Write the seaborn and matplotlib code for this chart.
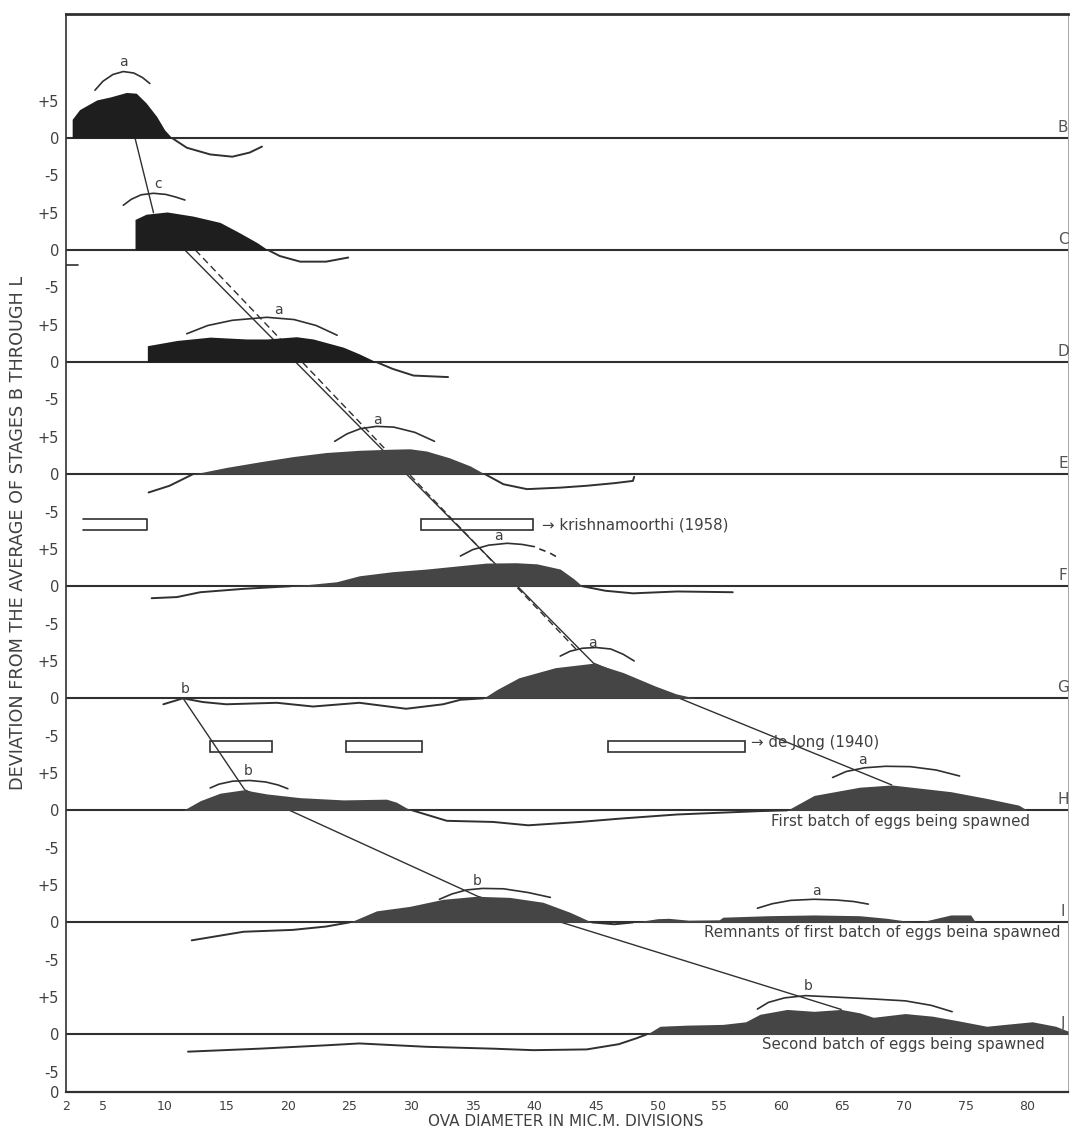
import numpy as np
import matplotlib
matplotlib.use("Agg")
import matplotlib.pyplot as plt
import seaborn as sns

## stages, stacked top to bottom, 15 deviation units apart
stages = ["B", "C", "D", "E", "F", "G", "H", "I", "J"]
stage_gap = 15

## deviation profiles (positive part is filled, negative part drawn as a line)
B_x = [2.5, 2.5, 3.1, 4.5, 5.6, 6.9, 7.7, 8.5, 9.35, 10.0, 10.6, 11.8, 13.7, 15.5, 16.9, 17.9]
B_dev = [0, 2.5, 3.8, 5.1, 5.5, 6.1, 6.0, 4.7, 2.9, 1.1, 0, -1.3, -2.2, -2.5, -1.95, -1.15]

C_x = [7.6, 7.6, 8.5, 10.2, 12.3, 14.5, 16.1, 17.5, 18.4, 19.35, 21.0, 23.1, 24.9]
C_dev = [0, 4.1, 4.8, 5.1, 4.55, 3.7, 2.3, 1.0, 0, -0.8, -1.55, -1.55, -1.0]

D_x = [8.6, 8.6, 11.0, 13.7, 16.65, 18.3, 20.7, 22.05, 24.5, 25.8, 27.2, 28.5, 30.2, 33.0]
D_dev = [0, 2.2, 2.9, 3.35, 3.1, 3.1, 3.4, 3.1, 2.0, 1.1, 0, -0.9, -1.8, -2.0]

E_x = [8.7, 10.4, 12.3, 15.0, 17.7, 20.4, 23.1, 25.8, 28.5, 29.9, 31.25, 33.1, 34.8, 36.0,
       37.5, 39.4, 42.1, 44.25, 46.5, 48.0, 48.1]
E_dev = [-2.45, -1.55, 0, 0.9, 1.65, 2.35, 2.9, 3.2, 3.35, 3.4, 3.1, 2.2, 1.1, 0,
         -1.35, -2.0, -1.8, -1.55, -1.2, -0.9, -0.35]

F_x = [8.95, 11.0, 12.9, 16.4, 20.2, 23.95, 25.8, 28.5, 31.25, 33.95, 36.1, 38.5, 40.2, 42.1,
       43.2, 43.9, 45.75, 48.0, 51.6, 56.1]
F_dev = [-1.6, -1.45, -0.8, -0.35, 0, 0.6, 1.4, 1.95, 2.3, 2.75, 3.1, 3.15, 3.0, 2.3,
         1.0, 0, -0.6, -0.95, -0.7, -0.8]

G_x = [9.9, 11.5, 13.1, 15.0, 19.1, 22.05, 25.8, 29.6, 32.6, 34.0, 35.85, 37.0, 38.75, 41.7,
       44.8, 47.2, 49.8, 51.5, 53.1]
G_dev = [-0.8, 0, -0.5, -0.8, -0.6, -1.1, -0.6, -1.4, -0.8, -0.2, 0, 1.2, 2.75, 4.1,
         4.7, 3.45, 1.65, 0.6, 0]

H_x = [11.5, 12.9, 14.5, 16.4, 18.3, 21.0, 24.5, 28.0, 28.8, 29.6, 30.1, 32.9, 36.65, 39.5,
       43.7, 47.0, 51.6, 58.3, 60.5, 62.7, 66.4, 69.0, 73.8, 76.7, 79.3, 80.0]
H_dev = [0, 1.3, 2.3, 2.75, 2.2, 1.7, 1.4, 1.5, 1.1, 0.35, 0, -1.4, -1.55, -2.0,
         -1.55, -1.1, -0.55, -0.1, 0, 2.0, 3.1, 3.4, 2.5, 1.6, 0.7, 0]

I_x = [12.2, 16.4, 20.4, 23.1, 25.0, 27.2, 29.9, 32.6, 35.3, 38.0, 40.7, 42.9, 44.7, 46.5,
       48.0, 50.0, 50.9, 52.5, 55.0, 55.3, 59.0, 62.7, 66.4, 68.6, 70.1, 71.2, 72.5, 73.8,
       75.4, 75.8]
I_dev = [-2.4, -1.25, -1.0, -0.55, 0, 1.55, 2.15, 3.1, 3.5, 3.35, 2.7, 1.35, 0, -0.25,
         0, 0.5, 0.55, 0.3, 0.35, 0.7, 0.9, 1.0, 0.9, 0.55, 0.2, -0.1, 0.5, 1.0,
         1.0, 0]

J_x = [11.9, 17.7, 23.1, 25.8, 31.25, 36.65, 39.9, 44.25, 46.85, 48.3, 49.1, 50.2, 52.4, 55.3,
       57.15, 58.3, 60.5, 62.7, 64.9, 66.4, 67.5, 70.1, 72.3, 74.5, 76.7, 78.2, 80.4, 82.3, 83.3]
J_dev = [-2.3, -1.9, -1.45, -1.2, -1.65, -1.9, -2.1, -2.0, -1.3, -0.5, 0, 1.1, 1.25, 1.35,
         1.7, 2.7, 3.35, 3.1, 3.35, 2.9, 2.3, 2.8, 2.45, 1.8, 1.1, 1.35, 1.7, 1.1, 0.45]

profiles = {"B": (B_x, B_dev), "C": (C_x, C_dev), "D": (D_x, D_dev), "E": (E_x, E_dev),
            "F": (F_x, F_dev), "G": (G_x, G_dev), "H": (H_x, H_dev), "I": (I_x, I_dev),
            "J": (J_x, J_dev)}

## modal arcs (stage, letter, arc x, arc y, letter position)
arc_B_x = [4.35, 5.0, 5.8, 6.65, 7.5, 8.2, 8.8]
arc_B_y = [6.4, 7.6, 8.5, 8.9, 8.7, 8.1, 7.3]
arc_C_x = [6.65, 7.3, 8.1, 9.1, 10.1, 10.9, 11.65]
arc_C_y = [6.0, 6.8, 7.4, 7.6, 7.45, 7.1, 6.7]
arc_D_x = [11.8, 13.5, 15.5, 18.3, 20.5, 22.3, 24.0]
arc_D_y = [3.8, 4.9, 5.6, 6.0, 5.7, 4.9, 3.6]
arc_E_x = [23.8, 24.8, 25.9, 27.2, 28.6, 30.3, 31.9]
arc_E_y = [4.4, 5.4, 6.1, 6.4, 6.3, 5.6, 4.4]
arc_F_x = [34.0, 35.0, 36.3, 37.8, 39.0, 40.0]
arc_F_y = [4.05, 4.9, 5.5, 5.75, 5.6, 5.3]
arc_F_dash_x = [40.4, 41.2, 41.9]
arc_F_dash_y = [5.0, 4.5, 3.85]
arc_G_x = [42.1, 42.9, 43.9, 45.0, 46.2, 47.2, 48.1]
arc_G_y = [5.65, 6.3, 6.7, 6.8, 6.6, 5.9, 5.0]
arc_Hb_x = [13.7, 14.4, 15.5, 16.9, 18.2, 19.2, 20.0]
arc_Hb_y = [3.0, 3.5, 3.9, 4.0, 3.8, 3.4, 2.9]
arc_Ha_x = [64.2, 65.3, 66.8, 68.5, 70.5, 72.6, 74.5]
arc_Ha_y = [4.4, 5.2, 5.7, 5.9, 5.85, 5.4, 4.6]
arc_Ib_x = [32.3, 33.3, 34.5, 35.8, 37.5, 39.5, 41.3]
arc_Ib_y = [3.1, 3.8, 4.35, 4.55, 4.5, 4.0, 3.35]
arc_Ia_x = [58.1, 59.3, 60.8, 62.7, 64.5, 65.9, 67.1]
arc_Ia_y = [1.9, 2.5, 2.95, 3.1, 3.0, 2.8, 2.45]
arc_Jb_x = [58.1, 59.0, 60.3, 62.0, 64.5, 67.5, 70.1, 72.2, 73.9]
arc_Jb_y = [3.4, 4.3, 4.9, 5.2, 5.0, 4.75, 4.5, 3.9, 3.05]

arcs = [("B", "a", arc_B_x, arc_B_y, (6.65, 10.2)),
        ("C", "c", arc_C_x, arc_C_y, (9.5, 8.9)),
        ("D", "a", arc_D_x, arc_D_y, (19.2, 7.0)),
        ("E", "a", arc_E_x, arc_E_y, (27.3, 7.3)),
        ("F", "a", arc_F_x, arc_F_y, (37.1, 6.75)),
        ("G", "a", arc_G_x, arc_G_y, (44.7, 7.45)),
        ("H", "b", arc_Hb_x, arc_Hb_y, (16.8, 5.3)),
        ("H", "a", arc_Ha_x, arc_Ha_y, (66.6, 6.75)),
        ("I", "b", arc_Ib_x, arc_Ib_y, (35.4, 5.6)),
        ("I", "a", arc_Ia_x, arc_Ia_y, (62.9, 4.2)),
        ("J", "b", arc_Jb_x, arc_Jb_y, (62.2, 6.5))]
G_b_label = (11.7, 1.3)

## lines following the modes (absolute y)
BC_x, BC_y = [7.6, 9.1], [0, -10.0]
a_solid_x, a_solid_y = [11.65, 44.8, 69.0], [-15, -70.3, -86.6]
a_dash_x, a_dash_y = [12.5, 43.6], [-15, -68.8]
b_line_x, b_line_y = [11.5, 16.5, 35.4, 64.9], [-75, -87.25, -101.5, -116.65]

## spawning ranges of other authors (x0, x1, y0, y1)
krishna_boxes = [(30.8, 39.9, -52.5, -51.0)]
krishna_open_box = (3.4, 8.6, -52.5, -51.0)
dejong_boxes = [(13.7, 18.7, -82.2, -80.7), (24.7, 30.9, -82.2, -80.7), (46.0, 57.1, -82.2, -80.7)]

notes = [(59.2, -91.5, "First batch of eggs being spawned"),
         (53.8, -106.3, "Remnants of first batch of eggs beina spawned"),
         (58.45, -121.4, "Second batch of eggs being spawned"),
         (40.6, -51.8, "\u2192 krishnamoorthi (1958)"),
         (57.55, -80.9, "\u2192 de Jong (1940)")]

x_major = [2, 5, 10, 15, 20, 25, 30, 35, 40, 45, 50, 55, 60, 65, 70, 75, 80]
y_tick_text = ["+5", "0", "-5"]

## ---------------------------------------------------------------------
sns.set_theme(style="white")
plt.rcParams["font.family"] = ["DejaVu Sans"]
ink = "#303030"
txt = "#404040"

fig = plt.figure(figsize=(10.72, 11.35), dpi=100)
ax = fig.add_axes([66 / 1072, 1 - 1092 / 1135, 1002 / 1072, 1078 / 1135])
ax.set_xlim(2, 83.3)
ax.set_ylim(-127.7, 16.6)

offsets = {s: -stage_gap * i for i, s in enumerate(stages)}

# connecting lines sit under the fills
sns.lineplot(x=BC_x, y=BC_y, ax=ax, sort=False, estimator=None, color=ink, lw=1.0, zorder=2)
sns.lineplot(x=a_solid_x, y=a_solid_y, ax=ax, sort=False, estimator=None, color=ink, lw=1.0, zorder=2)
sns.lineplot(x=a_dash_x, y=a_dash_y, ax=ax, sort=False, estimator=None, color=ink, lw=1.0,
             linestyle=(0, (5, 3)), zorder=2)
sns.lineplot(x=b_line_x, y=b_line_y, ax=ax, sort=False, estimator=None, color=ink, lw=1.0, zorder=2)

for i, s in enumerate(stages):
    base = offsets[s]
    ax.axhline(base, color=ink, lw=1.5, zorder=2)
    x = np.asarray(profiles[s][0], float)
    d = np.asarray(profiles[s][1], float)
    fill_col = "#1e1e1e" if i < 3 else "#454545"
    ax.fill_between(x, base, base + np.clip(d, 0, None), color=fill_col, lw=0, zorder=3)
    idx = np.flatnonzero(d <= 0)
    runs = np.split(idx, np.flatnonzero(np.diff(idx) > 1) + 1)
    for r in runs:
        if len(r) > 1:
            sns.lineplot(x=x[r], y=base + d[r], ax=ax, sort=False, estimator=None,
                         color=ink, lw=1.4, zorder=4)
    ax.text(82.9, base + 0.4, s, ha="center", va="bottom", fontsize=11, color="#555555")

for s, letter, axs, ays, (lx, ly) in arcs:
    base = offsets[s]
    ax.plot(axs, np.asarray(ays) + base, color=ink, lw=1.2, zorder=4)
    ax.text(lx, ly + base, letter, ha="center", va="center", fontsize=10, color=txt)
ax.plot(arc_F_dash_x, np.asarray(arc_F_dash_y) + offsets["F"], color=ink, lw=1.2,
        linestyle=(0, (4, 3)), zorder=4)
ax.text(G_b_label[0], G_b_label[1] + offsets["G"], "b", ha="center", va="center", fontsize=10, color=txt)

for x0, x1, y0, y1 in krishna_boxes + dejong_boxes:
    ax.add_patch(plt.Rectangle((x0, y0), x1 - x0, y1 - y0, fill=False, ec=ink, lw=1.2, zorder=4))
x0, x1, y0, y1 = krishna_open_box
ax.plot([x0, x1, x1, x0], [y1, y1, y0, y0], color=ink, lw=1.2, zorder=4)

for nx, ny, t in notes:
    ax.text(nx, ny, t, ha="left", va="center", fontsize=10.8, color=txt)

# small stray tick near stage C
ax.plot([2.0, 3.0], [-17.0, -17.0], color=ink, lw=1.2, zorder=4)

## axes
ax.set_xticks(x_major)
ax.set_xticks(range(2, 84), minor=True)
ax.tick_params(axis="x", which="both", direction="out", length=5, width=0.9, pad=1,
               labelsize=9, colors=ink, labelcolor=txt)
ypos, ylab = [], []
for s in stages:
    for v, t in zip([5, 0, -5], y_tick_text):
        ypos.append(offsets[s] + v)
        ylab.append(t)
ypos.append(-127.7)
ylab.append("0")
ax.set_yticks(ypos)
ax.set_yticklabels(ylab)
ax.tick_params(axis="y", direction="out", length=4, width=0.9, pad=1, labelsize=10.5,
               colors=ink, labelcolor=txt)

for side, lw in [("top", 2.0), ("left", 1.2), ("bottom", 1.6), ("right", 0.6)]:
    ax.spines[side].set_visible(True)
    ax.spines[side].set_linewidth(lw)
    ax.spines[side].set_color(ink if side != "right" else "#999999")

fig.text(18 / 1072, 1 - 533 / 1135, "DEVIATION FROM THE AVERAGE OF STAGES B THROUGH L",
         rotation=90, ha="center", va="center", fontsize=12.7, color=txt)
fig.text(566 / 1072, 1 - 1122 / 1135, "OVA DIAMETER IN MIC.M. DIVISIONS",
         ha="center", va="center", fontsize=11, color=txt)

fig.savefig("out.png", dpi=100)
